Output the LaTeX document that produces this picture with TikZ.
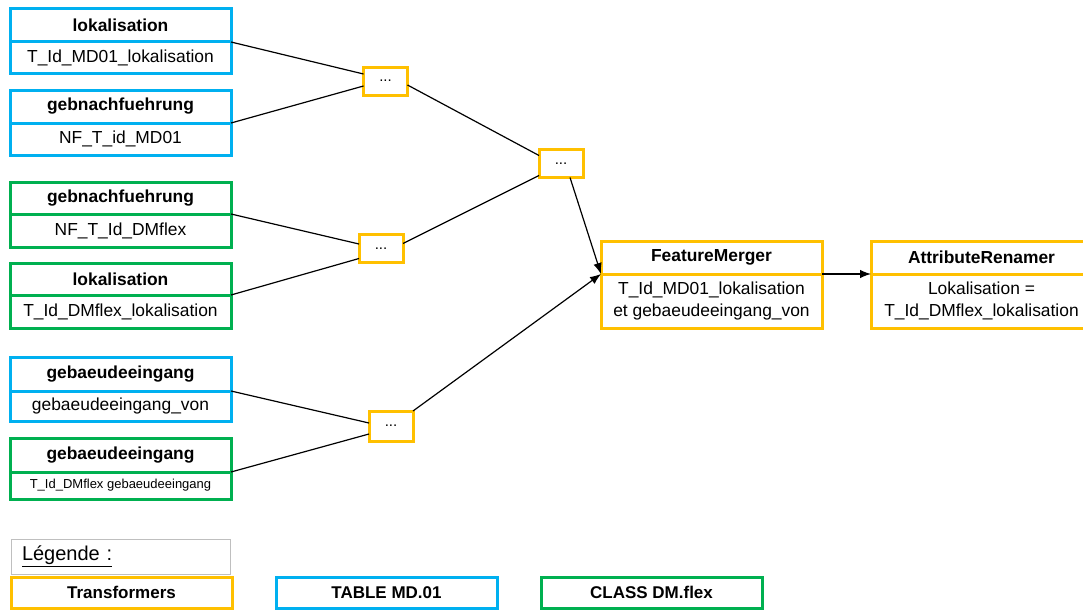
\documentclass[tikz,border=0pt]{standalone}
\usepackage{fontspec}
\setmainfont{Liberation Sans}
\usetikzlibrary{arrows.meta}
\definecolor{cblue}{HTML}{00B0F0}
\definecolor{cgreen}{HTML}{00B050}
\definecolor{cyel}{HTML}{FFC000}
\tikzset{
  box/.style={line width=3pt, fill=white, inner sep=0pt, outer sep=0pt,
    minimum width=221pt, align=center},
  ttl/.style={box, anchor=north west, font=\fontsize{17.4}{22}\selectfont\bfseries},
  bdy/.style={box, anchor=north, font=\fontsize{17.4}{22}\selectfont},
  small/.style={font=\fontsize{13}{16}\selectfont},
  tf/.style={draw=cyel, line width=3pt, fill=white, inner sep=0pt, outer sep=0pt,
    minimum width=44pt, minimum height=28pt, font=\fontsize{15}{18}\selectfont},
  conn/.style={line width=1.2pt, black},
  arr/.style={conn, -{Latex[length=11pt,width=8.5pt]}},
  legbox/.style={line width=3pt, anchor=north west, inner sep=0pt, outer sep=0pt,
    minimum width=221pt, minimum height=31pt,
    font=\fontsize{17}{20}\selectfont\bfseries},
}
\begin{document}
\begin{tikzpicture}[x=1pt,y=-1pt]
\useasboundingbox (0,0) rectangle (1083,610);
\clip (0,0) rectangle (1083,610);

% MD.01 and DM.flex tables
\node[ttl, draw=cblue, minimum height=33] (a1) at (10,9) {lokalisation};
\node[bdy, draw=cblue, minimum height=31] (a1b) at (a1.south) {T\_Id\_MD01\_lokalisation};

\node[ttl, draw=cblue, minimum height=33] (a2) at (10,90) {gebnachfuehrung};
\node[bdy, draw=cblue, minimum height=32] (a2b) at (a2.south) {NF\_T\_id\_MD01};

\node[ttl, draw=cgreen, minimum height=32] (g1) at (10,182) {gebnachfuehrung};
\node[bdy, draw=cgreen, minimum height=33] (g1b) at (g1.south) {NF\_T\_Id\_DMflex};

\node[ttl, draw=cgreen, minimum height=32] (g2) at (10,263) {lokalisation};
\node[bdy, draw=cgreen, minimum height=33] (g2b) at (g2.south) {T\_Id\_DMflex\_lokalisation};

\node[ttl, draw=cblue, minimum height=34] (a3) at (10,357) {gebaeudeeingang};
\node[bdy, draw=cblue, minimum height=30] (a3b) at (a3.south) {gebaeudeeingang\_von};

\node[ttl, draw=cgreen, minimum height=34] (g3) at (10,438) {gebaeudeeingang};
\node[bdy, small, draw=cgreen, minimum height=27] (g3b) at (g3.south) {T\_Id\_DMflex gebaeudeeingang};

% intermediate transformers
\node[tf] (t1) at (385.5,81) {...};
\node[tf] (t2) at (561,163.5) {...};
\node[tf] (t3) at (381,248.5) {...};
\node[tf, minimum height=30pt] (t4) at (391,426) {...};

% FeatureMerger and AttributeRenamer
\node[ttl, draw=cyel, minimum height=33] (fm) at (601,241) {FeatureMerger};
\node[bdy, draw=cyel, minimum height=54] (fmb) at (fm.south) {T\_Id\_MD01\_lokalisation\\et gebaeudeeingang\_von};

\node[ttl, draw=cyel, minimum height=33] (ar) at (871,241) {AttributeRenamer};
\node[bdy, draw=cyel, minimum height=54] (arb) at (ar.south) {Lokalisation =\\T\_Id\_DMflex\_lokalisation};

% connectors
\draw[conn] (a1.south east) -- ([yshift=7pt]t1.west);
\draw[conn] (a2.south east) -- ([yshift=-5pt]t1.west);
\draw[conn] (g1.south east) -- ([yshift=4.5pt]t3.west);
\draw[conn] (g2.south east) -- ([yshift=-10pt]t3.west);
\draw[conn] (a3.south east) -- ([yshift=3pt]t4.west);
\draw[conn] (g3.south east) -- ([yshift=-8pt]t4.west);
\draw[conn] ([yshift=-4pt]t1.east) -- ([yshift=8pt]t2.west);
\draw[conn] ([yshift=5pt]t3.east) -- ([yshift=-12pt]t2.west);
\draw[arr] ([xshift=9pt]t2.south) -- (fm.south west);
\draw[arr] (t4.north east) -- (fm.south west);
\draw[arr] (fm.south east) -- (ar.south west);

% legend
\node[draw=black!25, line width=1pt, anchor=north west, inner sep=0pt, outer sep=0pt,
  minimum width=219pt, minimum height=35pt, text width=197pt, align=left,
  font=\fontsize{20}{24}\selectfont] (leg) at (11,539) {\underline{Légende :}};
\node[legbox, draw=cyel] (lt) at (11,577) {Transformers};
\node[legbox, draw=cblue] (lm) at (276,577) {TABLE MD.01};
\node[legbox, draw=cgreen] (lc) at (541,577) {CLASS DM.flex};
\end{tikzpicture}
\end{document}
